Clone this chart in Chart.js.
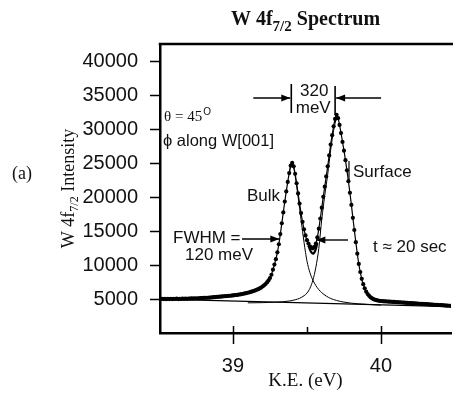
<!DOCTYPE html>
<html><head><meta charset="utf-8">
<script src="https://cdn.jsdelivr.net/npm/chart.js@4.4.1/dist/chart.umd.min.js"></script>
<style>html,body{margin:0;padding:0;background:#fff;overflow:hidden}#wrap{width:455px;height:393px;position:relative}</style>
</head><body><div id="wrap"><canvas id="c" width="455" height="393"></canvas></div>
<script>
// ---- data ----
const energy = [
38.50,38.51,38.52,38.53,38.54,38.55,38.56,38.57,38.58,38.59,
38.60,38.61,38.62,38.63,38.64,38.65,38.66,38.67,38.68,38.69,
38.70,38.71,38.72,38.73,38.74,38.75,38.76,38.77,38.78,38.79,
38.80,38.81,38.82,38.83,38.84,38.85,38.86,38.87,38.88,38.89,
38.90,38.91,38.92,38.93,38.94,38.95,38.96,38.97,38.98,38.99,
39.00,39.01,39.02,39.03,39.04,39.05,39.06,39.07,39.08,39.09,
39.10,39.11,39.12,39.13,39.14,39.15,39.16,39.17,39.18,39.19,
39.20,39.21,39.22,39.23,39.24,39.25,39.26,39.27,39.28,39.29,
39.30,39.31,39.32,39.33,39.34,39.35,39.36,39.37,39.38,39.39,
39.40,39.41,39.42,39.43,39.44,39.45,39.46,39.47,39.48,39.49,
39.50,39.51,39.52,39.53,39.54,39.55,39.56,39.57,39.58,39.59,
39.60,39.61,39.62,39.63,39.64,39.65,39.66,39.67,39.68,39.69,
39.70,39.71,39.72,39.73,39.74,39.75,39.76,39.77,39.78,39.79,
39.80,39.81,39.82,39.83,39.84,39.85,39.86,39.87,39.88,39.89,
39.90,39.91,39.92,39.93,39.94,39.95,39.96,39.97,39.98,39.99,
40.00,40.01,40.02,40.03,40.04,40.05,40.06,40.07,40.08,40.09,
40.10,40.11,40.12,40.13,40.14,40.15,40.16,40.17,40.18,40.19,
40.20,40.21,40.22,40.23,40.24,40.25,40.26,40.27,40.28,40.29,
40.30,40.31,40.32,40.33,40.34,40.35,40.36,40.37,40.38,40.39,
40.40,40.41,40.42,40.43,40.44,40.45,40.46,40.47];
const intensity = [
5020,4990,5040,5000,5030,4980,5040,5010,5050,5000,
5040,5020,5060,5010,5050,5030,5070,5040,5080,5050,
5090,5060,5100,5080,5110,5090,5130,5120,5150,5140,
5170,5170,5200,5200,5230,5240,5260,5280,5300,5320,
5340,5360,5380,5400,5420,5440,5460,5480,5500,5520,
5550,5580,5610,5640,5670,5710,5750,5790,5840,5890,
5940,6000,6060,6130,6200,6280,6370,6470,6580,6710,
6860,7030,7230,7470,7760,8120,8600,9350,10100,10900,
11900,13100,14600,16200,17800,19400,20900,22300,23600,24700,
25100,24600,23500,22100,20600,19100,17700,16400,15300,14400,
13700,13200,12800,12600,12500,12700,13200,14100,15400,16900,
18500,20100,21600,23100,24600,26200,27800,29200,30500,31600,
32200,31700,30700,29500,28200,26900,25500,24000,22400,20700,
18900,17000,15200,13400,11700,10200,9000,8000,7200,6600,
6100,5750,5480,5270,5110,4990,4900,4840,4790,4750,
4720,4700,4680,4670,4650,4640,4620,4610,4590,4580,
4560,4550,4530,4520,4500,4490,4470,4460,4440,4430,
4410,4400,4380,4370,4350,4340,4320,4310,4290,4280,
4260,4250,4230,4220,4200,4190,4170,4160,4140,4130,
4110,4100,4080,4070,4050,4040,4020,4010];
// fitted bulk component
const bulkE = [39.38,39.39,39.40,39.41,39.42,39.43,39.44,39.45,39.46,39.47,39.48,39.49,39.50,39.52,39.54,39.56,39.58,39.60,39.63,39.66,39.70,39.75,39.80,39.85,39.90,39.95,40.00];
const bulkI = [23500,24600,25000,24400,23200,21700,20100,18400,16700,15000,13400,11900,10600,8900,7800,7000,6400,5950,5450,5100,4800,4560,4400,4300,4230,4170,4120];
// fitted surface component
const surfE = [39.10,39.20,39.28,39.34,39.38,39.42,39.45,39.48,39.50,39.52,39.54,39.56,39.58,39.60,39.62,39.64,39.66,39.68,39.70];
const surfI = [4450,4480,4540,4620,4720,4900,5120,5500,5900,6600,7800,9700,12500,16800,20300,23400,27000,29900,31900];
// linear background
const baseE = [38.50,40.47];
const baseI = [5000,3900];
// total fit through the valley
const fitE = [39.51,39.52,39.53,39.54,39.55,39.56,39.57];
const fitI = [12900,12300,11900,11700,11900,12400,13300];
// axis ticks
const yTicks = [5000,10000,15000,20000,25000,30000,35000,40000];
const xTicks = [39,40];
const xMinorTicks = [39.5];

const SANS = '"Liberation Sans", Arial, Helvetica, sans-serif';
const SERIF = '"Liberation Serif", "Times New Roman", serif';
const pts = (xs, ys) => xs.map((v, i) => ({x: v, y: ys[i]}));

function arrow(ctx, x1, y1, x2, y2) {
  ctx.beginPath(); ctx.moveTo(x1, y1); ctx.lineTo(x2, y2); ctx.stroke();
  const a = Math.atan2(y2 - y1, x2 - x1), L = 9, W = 3.5;
  ctx.beginPath();
  ctx.moveTo(x2, y2);
  ctx.lineTo(x2 - L*Math.cos(a) + W*Math.sin(a), y2 - L*Math.sin(a) - W*Math.cos(a));
  ctx.lineTo(x2 - L*Math.cos(a) - W*Math.sin(a), y2 - L*Math.sin(a) + W*Math.cos(a));
  ctx.closePath(); ctx.fill();
}
function drawParts(ctx, parts, cx, cy) {
  let total = 0;
  parts.forEach(p => { ctx.font = p.f; p.w = ctx.measureText(p.t).width; total += p.w; });
  let x = cx - total/2;
  parts.forEach(p => { ctx.font = p.f; ctx.fillText(p.t, x, cy + (p.dy || 0)); x += p.w; });
}

const annot = {
  id: 'annot',
  afterDraw(chart) {
    const {ctx, chartArea: ca, scales: {x, y}} = chart;
    ctx.save();
    ctx.strokeStyle = '#000'; ctx.fillStyle = '#111';
    // top frame line
    ctx.lineWidth = 2.5;
    ctx.beginPath(); ctx.moveTo(ca.left - 1.25, ca.top); ctx.lineTo(ca.right + 2, ca.top); ctx.stroke();
    // x tick marks
    ctx.lineWidth = 1.5;
    xTicks.forEach(v => { const px = Math.round(x.getPixelForValue(v)) + 0.5;
      ctx.beginPath(); ctx.moveTo(px, ca.bottom - 7); ctx.lineTo(px, ca.bottom + 11); ctx.stroke(); });
    xMinorTicks.forEach(v => { const px = Math.round(x.getPixelForValue(v)) + 0.5;
      ctx.beginPath(); ctx.moveTo(px, ca.bottom - 6); ctx.lineTo(px, ca.bottom); ctx.stroke(); });
    // main title
    ctx.textBaseline = 'alphabetic'; ctx.textAlign = 'left';
    drawParts(ctx, [
      {t: 'W 4f', f: `bold 20px ${SERIF}`},
      {t: '7/2', f: `bold 15px ${SERIF}`, dy: 6},
      {t: ' Spectrum', f: `bold 20px ${SERIF}`}
    ], (ca.left + ca.right)/2, 25);
    // y axis title
    ctx.save();
    ctx.translate(74, (ca.top + ca.bottom)/2);
    ctx.rotate(-Math.PI/2);
    drawParts(ctx, [
      {t: 'W 4f', f: `18px ${SERIF}`},
      {t: '7/2', f: `12px ${SERIF}`, dy: 4},
      {t: ' Intensity', f: `18px ${SERIF}`}
    ], 0, 0);
    ctx.restore();
    // (a)
    ctx.font = `18px ${SERIF}`; ctx.textBaseline = 'middle';
    ctx.fillText('(a)', 12, 174);
    // angles
    ctx.font = `15px ${SERIF}`; ctx.textBaseline = 'alphabetic';
    ctx.fillText('\u03b8 = 45', 164, 121);
    const tw = ctx.measureText('\u03b8 = 45').width;
    ctx.font = `10px ${SANS}`;
    ctx.fillText('O', 164 + tw + 1, 115);
    ctx.font = `16.5px ${SANS}`; ctx.textBaseline = 'middle';
    ctx.fillText('\u03d5 along W[001]', 163, 141);
    // 320 meV
    const xb = x.getPixelForValue(39.394), xs = x.getPixelForValue(39.69);
    ctx.lineWidth = 1.6;
    ctx.beginPath(); ctx.moveTo(xb, 84); ctx.lineTo(xb, 113); ctx.stroke();
    ctx.beginPath(); ctx.moveTo(xs, 86); ctx.lineTo(xs, 115); ctx.stroke();
    ctx.lineWidth = 1.4; ctx.fillStyle = '#000';
    arrow(ctx, xb - 38, 98, xb - 1, 98);
    arrow(ctx, xs + 46, 98, xs + 1, 98);
    ctx.fillStyle = '#111';
    ctx.font = `17px ${SANS}`; ctx.textAlign = 'center';
    ctx.fillText('320', (xb + xs)/2 + 1, 91);
    ctx.fillText('meV', (xb + xs)/2, 108);
    // Bulk / Surface
    ctx.textAlign = 'left';
    ctx.fillText('Bulk', 247, 196);
    ctx.fillText('Surface', 353, 172);
    ctx.lineWidth = 1.2;
    ctx.beginPath(); ctx.moveTo(349, 161); ctx.lineTo(349, 182); ctx.stroke();
    // FWHM
    ctx.fillText('FWHM =', 173, 238);
    ctx.fillText('120 meV', 185, 255);
    ctx.fillStyle = '#000'; ctx.lineWidth = 1.4;
    arrow(ctx, 242, 239, x.getPixelForValue(39.32) - 1, 239);
    arrow(ctx, 348, 240, x.getPixelForValue(39.55) + 2, 240);
    ctx.fillStyle = '#111';
    ctx.fillText('t \u2248 20 sec', 373, 247);
    ctx.restore();
  }
};

new Chart(document.getElementById('c'), {
  type: 'scatter',
  data: {
    datasets: [
      {label: 'baseline', data: pts(baseE, baseI), showLine: true, borderColor: '#000', borderWidth: 1.2, pointRadius: 0},
      {label: 'bulk', data: pts(bulkE, bulkI), showLine: true, borderColor: '#000', borderWidth: 1, pointRadius: 0, cubicInterpolationMode: 'monotone'},
      {label: 'surface', data: pts(surfE, surfI), showLine: true, borderColor: '#000', borderWidth: 1, pointRadius: 0, cubicInterpolationMode: 'monotone'},
      {label: 'fit', data: pts(fitE, fitI), showLine: true, borderColor: '#000', borderWidth: 2.2, pointRadius: 0, cubicInterpolationMode: 'monotone'},
      {label: 'data', data: pts(energy, intensity), showLine: true, borderColor: '#000', borderWidth: 1.2,
       pointRadius: 2.1, pointBackgroundColor: '#000', pointBorderWidth: 0, cubicInterpolationMode: 'monotone'}
    ]
  },
  options: {
    responsive: false, animation: false,
    layout: {padding: {left: 0, right: 0, top: 44, bottom: 0}},
    plugins: {legend: {display: false}, tooltip: {enabled: false}},
    scales: {
      x: {
        type: 'linear', min: 38.507, max: 40.473,
        afterBuildTicks: s => { s.ticks = xTicks.map(v => ({value: v})); },
        afterFit: s => { s.height = 60; },
        grid: {display: false, drawTicks: false},
        border: {display: true, color: '#000', width: 2.5},
        ticks: {color: '#111', font: {family: SANS, size: 20}, padding: 21, maxRotation: 0},
        title: {display: true, text: 'K.E. (eV)', color: '#111', font: {family: SERIF, size: 19}, padding: {top: 0, bottom: 1}}
      },
      y: {
        type: 'linear', min: 0, max: 42650,
        afterBuildTicks: s => { s.ticks = yTicks.map(v => ({value: v})); },
        afterFit: s => { s.width = 160; },
        grid: {drawOnChartArea: false, drawTicks: true, tickLength: 10, tickWidth: 1.5, tickColor: '#000'},
        border: {display: true, color: '#000', width: 2.5},
        ticks: {color: '#111', font: {family: SANS, size: 20}, padding: 12, callback: v => String(v)}
      }
    }
  },
  plugins: [annot]
});
</script></body></html>
